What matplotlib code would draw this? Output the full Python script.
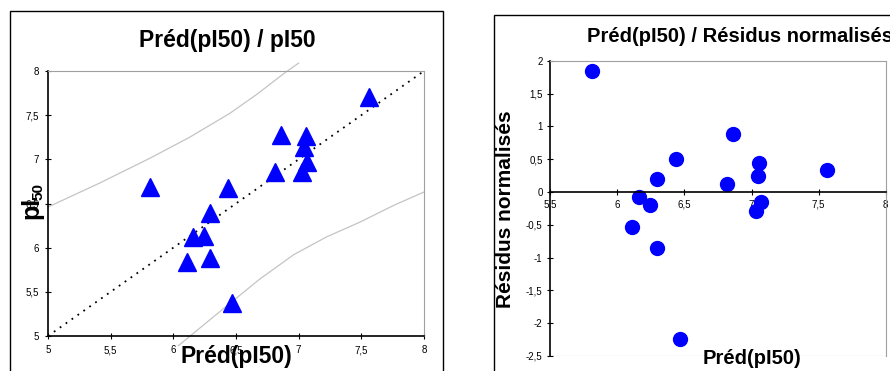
import matplotlib
matplotlib.use("Agg")
import matplotlib.pyplot as plt
from matplotlib.patches import Rectangle
from matplotlib.lines import Line2D

plt.rcParams['font.family'] = ['Liberation Sans', 'DejaVu Sans']

# predicted pI50 (same for both panels)
pred = [5.81, 6.16, 6.245, 6.11, 6.295, 6.295, 6.435, 6.47, 6.815, 6.86, 7.055, 7.045, 7.07, 7.03, 7.565]
# observed pI50
obs = [6.69, 6.12, 6.13, 5.84, 6.39, 5.88, 6.67, 5.37, 6.86, 7.27, 7.26, 7.14, 6.97, 6.86, 7.71]
# normalised residuals
resid = [1.85, -0.08, -0.2, -0.54, 0.2, -0.85, 0.5, -2.24, 0.12, 0.88, 0.44, 0.25, -0.15, -0.29, 0.33]

# confidence band
up_x = [5.0, 5.41, 5.81, 6.13, 6.45, 6.67, 6.89, 7.0]
up_y = [6.46, 6.73, 7.01, 7.25, 7.52, 7.74, 7.98, 8.09]
lo_x = [6.04, 6.40, 6.69, 6.96, 7.22, 7.49, 7.76, 8.0]
lo_y = [4.89, 5.31, 5.645, 5.92, 6.12, 6.29, 6.48, 6.63]

left_ticks = [5, 5.5, 6, 6.5, 7, 7.5, 8]
left_labels = ["5", "5,5", "6", "6,5", "7", "7,5", "8"]
res_xticks = [5.5, 6, 6.5, 7, 7.5, 8]
res_xlabels = ["5,5", "6", "6,5", "7", "7,5", "8"]
res_yticks = [2, 1.5, 1, 0.5, 0, -0.5, -1, -1.5, -2, -2.5]
res_ylabels = ["2", "1,5", "1", "0,5", "0", "-0,5", "-1", "-1,5", "-2", "-2,5"]

W, H = 890, 371
fig = plt.figure(figsize=(8.9, 3.71), dpi=100)

# outer chart frames
fig.patches.append(Rectangle((10 / W, -0.1), 433 / W, 1.1 - 11 / H, transform=fig.transFigure,
                             fill=False, edgecolor="black", lw=1))
fig.patches.append(Rectangle((494 / W, -0.1), 0.5, 1.1 - 15 / H, transform=fig.transFigure,
                             fill=False, edgecolor="black", lw=1))

# ---- left panel
ax1 = fig.add_axes([48 / W, 1 - 336 / H, 376 / W, 265 / H])
ax1.set_xlim(5, 8)
ax1.set_ylim(5, 8)
ax1.plot([5, 8], [5, 8], color="black", lw=1.3, linestyle=(0, (1, 3)))
ax1.plot(up_x, up_y, color="#c4c4c4", lw=0.9, clip_on=False)
ax1.plot(lo_x, lo_y, color="#c4c4c4", lw=0.9, clip_on=False)
ax1.plot(pred, obs, linestyle="none", marker="^", ms=13, color="#0000ff", clip_on=False)
ax1.set_xticks(left_ticks)
ax1.set_xticklabels(left_labels)
ax1.set_yticks(left_ticks)
ax1.set_yticklabels(left_labels)
ax1.tick_params(direction="inout", length=5, width=0.8, labelsize=7, pad=4)
for s in ["top", "right"]:
    ax1.spines[s].set_color("#a0a0a0")
for s in ["left", "bottom"]:
    ax1.spines[s].set_linewidth(1.2)

fig.text(227 / W, 1 - 40 / H, "Préd(pI50) / pI50", ha="center", va="center",
         fontsize=16.5, fontweight="bold")
fig.text(236 / W, 1 - 357 / H, "Préd(pI50)", ha="center", va="center",
         fontsize=16.5, fontweight="bold")
fig.text(31 / W, 1 - 208 / H, "pI", ha="center", va="center", rotation=90,
         fontsize=18, fontweight="bold")
fig.text(38 / W, 1 - 191 / H, "50", ha="center", va="center", rotation=90,
         fontsize=11, fontweight="bold")

# ---- right panel
ax2 = fig.add_axes([550.3 / W, 1 - 356 / H, 335.4 / W, 295.3 / H])
ax2.set_xlim(5.5, 8)
ax2.set_ylim(-2.5, 2)
ax2.plot(pred, resid, linestyle="none", marker="o", ms=10, color="#0000ff", clip_on=False)
ax2.spines["bottom"].set_position(("data", 0))
ax2.spines["bottom"].set_linewidth(1.2)
ax2.spines["left"].set_linewidth(1.2)
for s in ["top", "right"]:
    ax2.spines[s].set_color("#a0a0a0")
ax2.add_line(Line2D([0, 1], [0, 0], transform=ax2.transAxes, color="#a0a0a0", lw=0.8))
ax2.set_xticks(res_xticks)
ax2.set_xticklabels(res_xlabels)
ax2.set_yticks(res_yticks)
ax2.set_yticklabels(res_ylabels)
ax2.tick_params(direction="inout", length=5, width=0.8, labelsize=7, pad=3)

fig.text(740 / W, 1 - 37 / H, "Préd(pI50) / Résidus normalisés", ha="center", va="center",
         fontsize=14.5, fontweight="bold")
fig.text(752 / W, 1 - 358 / H, "Préd(pI50)", ha="center", va="center",
         fontsize=14.5, fontweight="bold")
fig.text(505 / W, 1 - 209 / H, "Résidus normalisés", ha="center", va="center", rotation=90,
         fontsize=15, fontweight="bold")

fig.savefig("out.png", dpi=100)
